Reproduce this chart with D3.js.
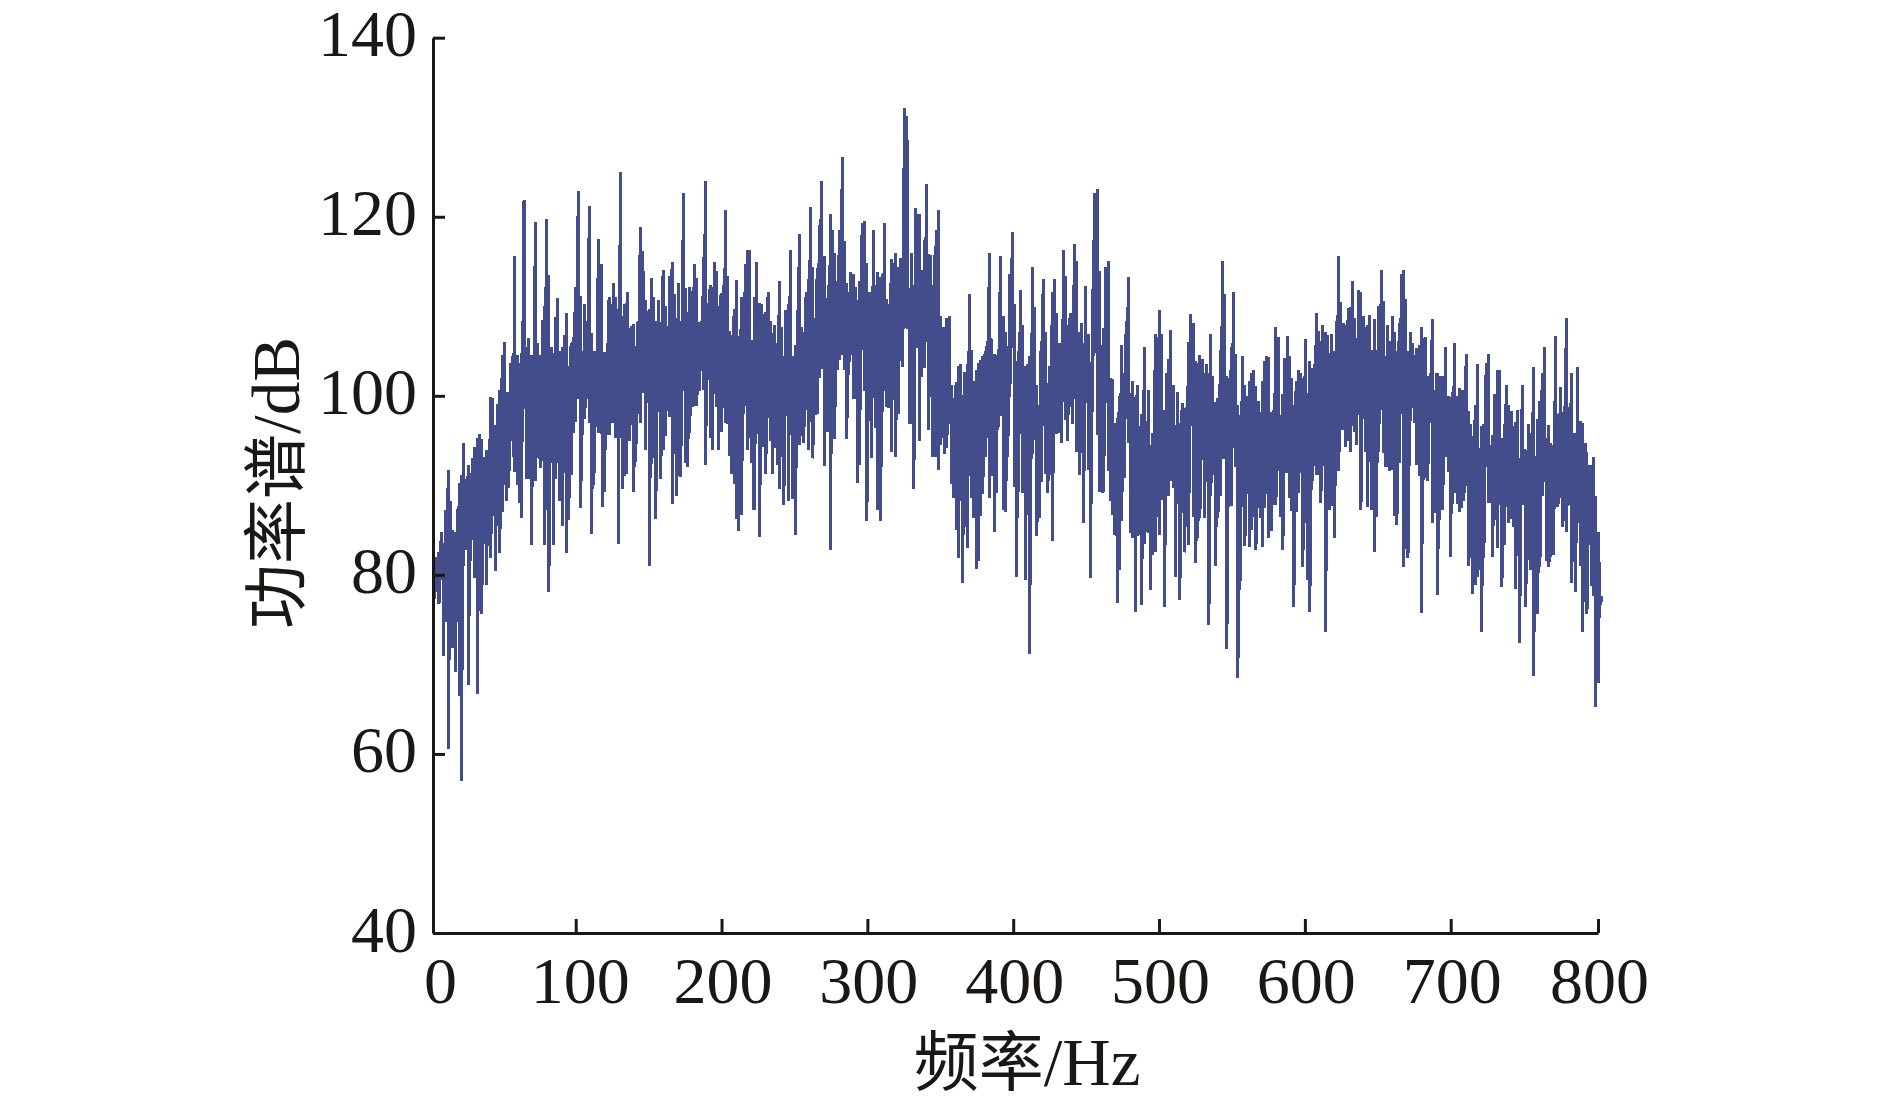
<!DOCTYPE html>
<html>
<head>
<meta charset="utf-8">
<style>
  html, body { margin: 0; padding: 0; background: #fff; }
  svg { display: block; }
</style>
<script src="https://cdn.jsdelivr.net/npm/d3@7/dist/d3.min.js"></script>
</head>
<body>
<svg width="1890" height="1105"></svg>
<script>
var xTicks = [0, 100, 200, 300, 400, 500, 600, 700, 800];
var yTicks = [40, 60, 80, 100, 120, 140];

// the trace:
// hz = frequency from the start of the band, peaks/dips = upper and lower tip in dB
var bandWidth = 114.7;

var hz1 = [1.1,2.7,4.1,5.7,7.1,8.9,10.5,11.9,13.5,15.3,
  16.7,18.1,19.5,20.8,22.4,24.3,25.6,27,28.6,30.5,
  31.8,33.4,34.8,36.6,38.2,39.6,41.2,42.8,44.2,45.8,
  47.6,49,50.6,52,53.4,55,56.3,57.7,59.1,60.7,
  62.5,64.1,65.7,67.6,68.9,70.3,71.9,73.5,75.3,76.5,
  77.9,79.5,81.1,82.7,84,85.4,87.2,88.9,90.2,91.6,
  93.2,94.8,96.2,97.8,99.8,101.4,102.8,104.2,105.8,107.4,
  108.8,110.4,112.2,113.6];
var peaks1 = [81.3,82,82.6,84.8,83.6,87.2,91.7,88.2,85,84.8,
  87.4,90.3,91.2,94.7,90.7,92.3,90.7,93,94.3,95.3,
  95.7,95.2,93.2,93.9,93.2,99.9,99.7,96.7,99.1,100.6,
  104.6,106,100.4,100.4,103.7,104.8,115.6,104.6,103.7,104.8,
  121.9,105.5,106.5,104.6,104.6,119.4,105.9,104.6,108.5,110,
  119.7,113.5,105.5,103.3,108.8,110.9,105,105.5,106.8,109.3,
  103.3,105.9,106.6,112.2,122.9,111.2,105,110.3,107.8,121.2,
  107,105,105,117.5];
var dips1 = [77.3,78.4,76.7,79.4,70.9,74.7,60.6,73.6,71.8,69.2,
  74.7,66.5,57,81,82.8,67.7,81.6,83.9,79.6,66.7,
  76.9,75.6,83.5,78.9,85.2,81.9,86.6,80.4,85.5,82.4,
  87,90,88.3,89.7,95,93.2,91.5,90,88,86.3,
  98.5,90.7,90.7,83.3,91.2,90.5,93,91.9,92.7,83.3,
  87.2,78.1,92.5,83.3,90.7,92.5,88.3,85.5,91.4,82.4,
  86.1,91.2,95.8,97.1,99.6,87.5,95.6,97.4,99.6,97,
  84.6,90,96.5,95.8];

var hz2 = [.7,1.6,3,4.4,5.5,6.2,7.6,9.2,10.8,12.6,
  14,15.3,16.7,18.1,19,20.4,21.8,23.1,24.5,26.1,
  27.7,29.1,30,31.1,32.5,33.9,35.3,36.6,38.2,40.1,
  41.7,43.3,44.9,46.5,47.9,49.5,50.8,52.4,53.8,55.4,
  57.3,58.6,60.2,61.6,63.2,64.8,66.4,68,69.8,71.2,
  72.4,74,75.6,77.2,78.5,80.2,81.5,83.1,84.7,86.3,
  87.7,88.6,90,92.1,93.7,95,97.1,98.5,99.8,101.4,
  102.8,103.7,105.1,106,107.6,109.5,111.1,112.4,113.8];
var peaks2 = [114.7,103.3,104.9,104.9,106,111,110.2,112.6,111,109.7,
  125,108.9,110.3,110.4,111.6,107.6,107.8,108,105.6,108.4,
  118.9,116.2,113.9,110.7,109.5,109.7,113.2,111,108.4,110.7,
  108.2,114.1,110,106.5,113.4,115,111.4,108.7,112.6,108.4,
  122.6,112,109.4,112.2,111.7,114.7,113.2,108.2,108.4,115.5,
  124,110.4,112.4,112.2,114.9,113.9,110,111.5,112.4,120.8,
  113.4,107.2,106.8,109.7,112.9,106.7,111,107.8,114.7,116.3,
  116.3,106.2,102.8,111,115,110.4,110.2,109.1,109.4];
var dips2 = [95.7,87.6,89.3,95.6,100.7,95.6,97,97,95.3,83.4,
  95.3,89.6,91,91.3,95,95,97.5,89.3,92.6,98,
  97,100.3,100.5,93.9,99.6,81,92.4,93.1,86.2,98.5,
  90.7,93.9,95.5,98.5,97.6,87.9,93.5,88.8,91,90.9,
  100.5,92.5,92.1,95.9,98.8,98.9,98.9,100.5,102.8,100.7,
  92.3,101.8,95.3,94,100.4,98.7,94,96,98.6,97,
  96.8,93.3,91.3,90.1,86.2,84.9,86.7,98,98.9,93.9,
  95.3,92.5,87.2,87.2,95.7,84.2,98.9,94.3,91.3];

var hz3 = [.7,2.3,3.7,5,6.9,8.5,10.1,11.5,13,14.7,
  16,17.6,19.5,20.8,22.2,23.8,25.2,26.8,28.4,29.8,
  31.4,33,34.4,36,37.3,39.2,41.2,42.6,43.5,44.9,
  46.3,48.1,49.7,51.8,53.1,54.7,56.1,57.5,59.5,60.9,
  61.8,63.4,65.3,66.9,68.5,70.1,71.7,73.1,74.4,75.8,
  77.9,79.5,80.6,82,83.6,85.4,86.8,88.2,90,91.6,
  93.2,94.3,95.5,96.4,98,99.4,100.8,101.9,103.3,104.4,
  105.8,107.2,108.3,109.5,110.8,112,112.9,113.8];
var peaks3 = [111.6,108.4,107,107.9,105.9,112.8,107.7,104.5,109.6,110.3,
  116.3,104.5,105.7,109.6,118.1,107.7,107.1,111.6,113.1,121.1,
  114.4,108.7,114.3,119.1,124,115.6,110.9,113.1,120.3,118.5,
  116,112.8,118.5,126.7,117.3,112.6,111.6,113.8,113.6,112.2,
  110.7,112.8,119.3,119.5,114.8,111.6,108.8,118.5,112.4,113.8,
  113.3,113.6,119.3,110.8,110.3,115.3,114.8,116,114.4,115.4,
  115,132.2,131.2,128.6,112,115.9,111.4,121,120.3,120.3,
  114.1,112.8,117.4,123.7,115.8,115.7,109.2,112.4];
var dips3 = [97.5,95,91.3,94.2,92.3,89.6,93.2,87.8,97.7,88.3,
  95.6,88.5,84.5,97.4,94.5,95.5,94.7,98.4,94,97.1,
  93,97.9,98,102,103,92.2,96,101.4,82.8,103,
  95.2,102.9,104,104.6,102.9,95.2,102.3,104.6,99.7,99.7,
  90.3,92.3,105.1,100.5,86,97.2,93,104.4,96.4,87.3,
  86,98.2,107.7,98.8,98.6,93.7,99.5,93.2,98,103.9,
  103.2,107.7,107.6,107.5,96.9,96.9,89.6,107.7,105.3,95,
  102.1,103.1,103.1,107,96.2,99.9,109,93.2];

var hz4 = [.7,1.8,3,4.6,6,7.3,8.7,10.5,11.9,13.3,
  15.1,16.7,18.1,19.5,21.1,22.9,24.3,25.6,27.3,29.1,
  30.5,31.8,33.4,35,36.4,38,39.6,41.2,42.6,44,
  45.6,47.6,49,50.6,52,53.8,55.4,56.6,57.9,59.3,
  60.7,62.7,64.1,65.5,67.6,69.2,70.5,72.1,73.5,74.9,
  76.7,78.1,79.5,81.3,82.7,84.3,86.1,87.5,89.1,90.5,
  91.6,93.4,95,96.4,98,99.8,101.2,102.6,104.2,106,
  107.4,108.8,110.1,112.2,113.8];
var peaks4 = [116.7,118.5,120.8,108.9,107.7,107.7,108.7,108.9,101.2,99.8,
  101.5,103.3,103.5,100.1,102.7,103.5,111.4,105.1,101.7,102.9,
  103.7,104,104.5,105,106.1,115.9,106.4,104.7,104.6,105.2,
  115.6,108.9,107.1,101.7,113.6,118.3,110.2,103.9,105,111.8,
  107.9,103.3,103.5,104.5,114.4,109.9,101.2,99,106.1,113.1,
  107.1,101.4,103.3,111.6,113.1,109.3,105.9,105.6,116.3,113.4,
  107.9,109.2,108.9,117,115.1,107.1,108.1,105.9,112.3,106.9,
  103.3,111.9,122.6,123.1,113.9];
var dips4 = [93.2,102.2,91.7,94.5,95.3,93.5,94.2,96.9,90.2,88.6,
  85,81.9,90.4,79.1,85.3,83,100.7,88.6,86.3,80.7,
  81.6,86.6,89,93.2,95.3,88.6,91,84.8,89.2,96.5,
  97.7,87.3,87,93.2,99.9,105.4,89.8,79.8,89.3,95.7,
  89.2,79.4,90.2,71.2,93.5,95.1,84.3,86.3,90.4,96.6,
  91.3,89.2,91.2,83.8,97.9,95.7,95.8,94.7,103.6,97.3,
  95,98.8,96.9,99.6,93.7,91.2,93.6,85.8,99.2,91.7,
  79.6,98.2,104.8,95.6,89.3];

var hz5 = [.7,1.8,3,5,6.4,8,9.4,11,12.4,14,
  15.8,17.2,18.8,20.2,21.5,23.4,24.7,26.1,27.7,29.8,
  31.1,32.5,33.9,35.5,37.3,38.7,40.1,41.7,43.5,44.9,
  46.3,47.6,49.5,50.8,52.4,54,55.6,57.3,58.6,60,
  61.6,63.2,65,66.4,67.8,69.6,71,72.4,74,75.3,
  76.7,78.5,80.2,82,83.4,85,86.3,87.9,89.5,90.9,
  92.5,93.9,95.3,97.1,98.7,100.3,101.9,103.5,104.9,106.3,
  107.9,109.5,110.8,112.4,113.8];
var peaks5 = [105.7,107.6,114.4,115.1,102,101.9,97,97.5,100,105.7,
  102.5,108.4,113.3,100.3,101.7,99.9,101.2,96.6,98,105.4,
  95,100.7,94.5,95.8,106.9,106.6,109.6,106.9,98.4,102.6,
  104.1,107.4,101.2,96.7,100.4,97,99.2,98.6,98.7,106,
  109.1,108.1,103.9,103.7,104.6,104.1,102.5,103.5,102.6,106.9,
  102.2,99.3,99.7,105.1,115.1,111.4,102.2,102,105.5,111.6,
  104.7,99,97.9,104.5,101.2,100,101.7,102.6,102.9,101.1,
  99.4,98.2,101.7,103.9,104.5];
var dips5 = [89.2,89.3,99.2,91.6,88.3,86.7,84.4,76.9,80.6,86,
  90.8,97.4,94.7,84.7,84.1,75.9,84.3,84.5,76.6,83.5,
  84.8,84.7,78.3,82.2,82.5,86.5,84.5,88.4,76.4,90.4,
  88.8,90.5,89.7,79.8,90.4,77.2,86.9,82.5,85.3,83.3,
  96.6,86.5,81.3,84.1,86.3,92.8,86.3,90.6,74.4,88.8,
  91.2,81,86.3,88.8,92.9,92.9,71.7,91.7,87.7,98.4,
  92,68.5,78.3,87.6,83.2,89,83.1,85,87.9,82.8,
  87.5,86.3,83.1,87.5,89];

var hz6 = [.5,2.1,3.7,5.3,7.1,8.7,10.1,11.5,13.3,14.9,
  16.3,17.6,19.2,20.8,22.4,23.8,25.6,27,28.6,30,
  31.6,33.2,34.8,36.2,37.6,39.4,41,42.4,43.7,45.6,
  46.9,48.5,49.9,51.5,53.1,55,56.6,58.2,59.5,60.7,
  62.3,63.7,65.3,66.6,68.2,69.8,71.2,73.1,74.4,75.8,
  77.9,79.5,80.6,82,83.6,85.4,87,88.4,90,91.6,
  93.2,94.6,96,97.8,99.4,100.8,102.1,103.7,105.3,106.7,
  108.1,109.5,111.3,112.9,114.3];
var peaks6 = [104.3,98.2,98.4,107.7,106.6,97.8,100.2,104.2,106.7,104.4,
  102,99,101.7,102.9,102.5,102,106.4,100.3,103.9,103.1,
  103.5,109.3,107.2,106.1,107.9,107.1,106.8,104.8,106.9,105,
  108.3,115.6,110.5,108.1,107.9,109.8,109.9,112.8,108.7,106.4,
  111.8,111.6,108.9,107.7,107.9,109,105.1,108.6,105.1,110,
  114.1,110.6,104.5,107.9,106.1,108.9,107.1,105,108.1,113.6,
  114.1,110.8,105,107.1,105.9,104.6,105.3,105.7,107.7,106.5,
  106.6,102.2,102.5,108.6,95.5];
var dips6 = [84.1,84.9,87.8,87.8,91.6,86.5,82.8,91.4,91.4,88.6,
  87.1,76.4,87,89.2,91.4,80.9,85.8,79.4,75.9,89.5,
  92.2,91.2,91.2,88,92.2,73.6,90.5,87.3,87.7,84.1,
  95.6,91.6,96.2,96.2,94.3,94.9,93.7,96.6,96,94.5,
  97.9,87.3,97.9,93.7,87.6,93.6,87.3,82.5,86.5,93.7,
  98.4,93.6,92,92,91.6,91.7,86.6,85.6,92.5,98,
  80.9,98,81.9,97.2,98.6,97,92.3,91,75.7,90.6,
  90.8,90.5,98.8,85.8,86.9];

var hz7 = [.7,1.6,3.2,4.8,5.7,7.1,8.9,10.5,11.9,13.3,
  15.1,16.7,18.1,19.7,21.3,22.9,24.3,25.6,27.5,29.1,
  30.5,31.8,33.4,35,36.6,38,39.4,41,42.8,44.2,
  45.8,47.4,48.8,50.6,52.2,53.8,55.2,56.6,57.9,59.8,
  62.1,64.3,65.7,67.6,68.9,70.3,71.9,73.5,75.1,76.7,
  78.1,79.5,81.3,82.7,84.3,86.1,87.7,90.2,91.8,93.7,
  95.5,96.4,97.8,99.6,101.2,103.1,104.2,105.8,107.2,108.8,
  110.1,111.8,113.1,114];
var peaks7 = [102.6,102.6,102.2,102.2,101.6,105.4,100,99.9,100.4,105.9,
  100,100.9,100.7,100.6,104.7,98.3,96.8,95.5,99,103.5,
  94.2,96.6,96.8,103.7,104.7,94.5,95.6,100.2,102.9,102.9,
  95.3,96.8,101.2,99,98.3,96.6,97.1,98.4,93,101.2,
  94,96.9,95.8,103.2,93.3,97.4,99.4,102.6,105.4,95.3,
  96.7,94.7,94.5,106.7,98,101,98.2,108.7,98.8,102.5,
  95.9,95.7,103.2,97.2,97,94.7,93.7,92.3,92.3,93.2,
  88.8,84.8,81.4,77.6];
var dips7 = [87.1,77.7,86.1,87.3,90,93.2,91.5,82,87.9,89.2,
  87.9,87,87.5,88.2,89.9,81,81.9,77.9,78.9,79.8,
  80.6,73.6,81.9,92.1,88,88,82,86.1,83,89.5,
  78.6,83.3,87.6,85.8,86.2,85.3,78.4,82.1,72.4,87.8,
  76.4,81.7,80.6,68.7,77.1,75.6,80.9,88.8,90.4,81.6,
  80.9,82,82.2,88.3,87.6,88.6,85.3,84.8,87.8,79.1,
  87.8,78.1,85.8,81,73.6,79.8,75.6,84.8,78.8,77.6,
  65.2,67.9,76.5,77];

var bands = [[hz1, peaks1, dips1], [hz2, peaks2, dips2], [hz3, peaks3, dips3], [hz4, peaks4, dips4],
             [hz5, peaks5, dips5], [hz6, peaks6, dips6], [hz7, peaks7, dips7]];

var svg = d3.select("svg"),
    ink = "#1a1715",
    traceColor = "#434d8c",
    left = 433;

var x = d3.scaleLinear()
          .domain([0, 800])
          .range([left, 1598]);

// the printed ticks are not quite evenly spaced near the ends
var xAxisScale = d3.scaleLinear()
                   .domain([0, 100, 700, 800])
                   .range([left, 575.7, 1450.7, 1598]);

var y = d3.scaleLinear()
          .domain([40, 140])
          .range([933, 37.7]);

var points = [];
bands.forEach(function(band, b) {
  band[0].forEach(function(hz, i) {
    var f = b * bandWidth + hz;
    points.push({f: f, db: band[1][i]});
    points.push({f: f, db: band[2][i]});
  });
});

var line = d3.line()
             .x(function(d) { return x(d.f); })
             .y(function(d) { return y(d.db); });

svg.append("path")
   .datum(points)
   .attr("d", line)
   .attr("fill", "none")
   .attr("stroke", traceColor)
   .attr("stroke-width", 3)
   .attr("stroke-linejoin", "bevel")
   .attr("shape-rendering", "crispEdges");

// axes
var xAxis = svg.append("g")
               .attr("transform", "translate(0,933)")
               .call(d3.axisBottom(xAxisScale).tickValues(xTicks).tickSize(-14).tickSizeOuter(0).tickPadding(0));

var yAxis = svg.append("g")
               .attr("transform", "translate(" + left + ",0)")
               .call(d3.axisLeft(y).tickValues(yTicks).tickSize(-12).tickSizeOuter(0).tickPadding(0));

svg.selectAll(".domain, .tick line")
   .attr("stroke", ink)
   .attr("stroke-width", 3);

xAxis.selectAll("text")
     .attr("y", 0)
     .attr("dy", 70)
     .attr("x", function(d) { return d === 0 ? 7 : d === 100 ? 4 : 1; })
     .attr("text-anchor", "middle")
     .attr("fill", ink)
     .style("font", "66px 'Liberation Serif'");

yAxis.selectAll("text")
     .attr("x", -16)
     .attr("dy", 18)
     .attr("text-anchor", "end")
     .attr("fill", ink)
     .style("font", "66px 'Liberation Serif'");

// axis titles, Chinese and Latin parts in different faces
function title(sel, cjk, latin) {
  sel.attr("fill", ink).attr("text-anchor", "middle");
  sel.append("tspan").style("font", "65px 'Noto Sans CJK SC'").text(cjk);
  sel.append("tspan").style("font", "67px 'Liberation Serif'").text(latin);
}

svg.append("text")
   .attr("transform", "translate(1027,1085)")
   .call(title, "频率", "/Hz");

svg.append("text")
   .attr("transform", "translate(299,483) rotate(-90)")
   .call(title, "功率谱", "/dB");
</script>
</body>
</html>
